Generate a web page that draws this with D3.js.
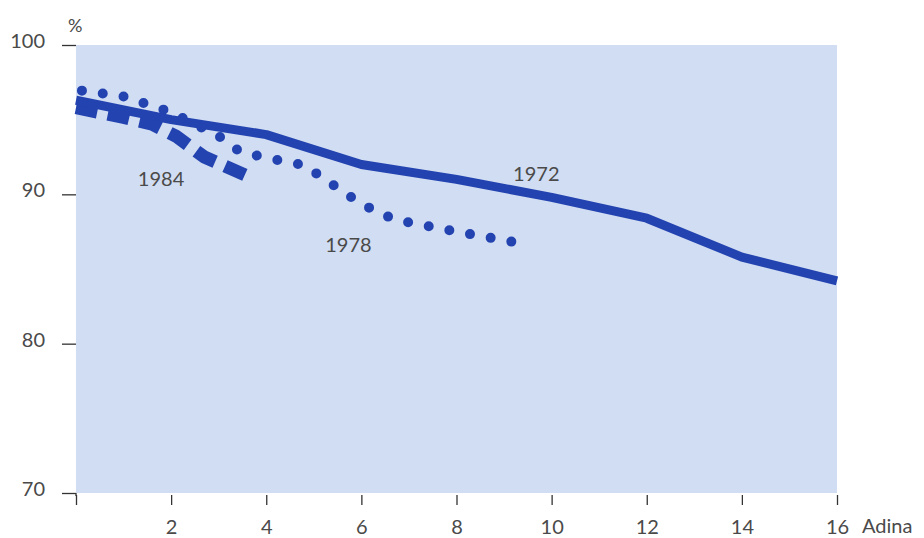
<!DOCTYPE html>
<html><head><meta charset="utf-8">
<script src="https://cdn.jsdelivr.net/npm/d3@7"></script>
<style>
html,body{margin:0;padding:0;background:#fff;}
svg text{font-family:Lato,"DejaVu Sans",sans-serif;fill:#4a4a4a;}
</style></head>
<body><svg id="c" width="924" height="538"></svg>
<script>
// Data
const xTicks = [0,2,4,6,8,10,12,14,16];
const yTicks = [70,80,90,100];
const s1972_x = [0,2,4,6,8,10,12,14,16];
const s1972_y = [96.3,95.0,94.0,92.0,91.0,89.8,88.4,85.8,84.2];
const s1978_x = [0,1,2,3,3.45,4,4.8,6,6.7,8,9.3];
const s1978_y = [97.0,96.55,95.5,93.9,92.85,92.45,91.95,89.35,88.3,87.5,86.75];
const s1984_x = [0,1,1.6,2.1,2.7,3.55];
const s1984_y = [95.8,95.15,94.7,93.9,92.5,91.3];
const seriesLabels = [
  {name:"1972", x:9.19, y:90.9},
  {name:"1978", x:5.24, y:86.13},
  {name:"1984", x:1.30, y:90.56}
];
const xAxisTitle = "Adina";
const yAxisTitle = "%";

const svg = d3.select("#c");
const mL = 76, mR = 837, mT = 45, mB = 493;
const x = d3.scaleLinear().domain([0,16]).range([mL,mR]);
const y = d3.scaleLinear().domain([70,100]).range([mB,mT]);
const blue = "#2343b0";

svg.append("rect").attr("x",mL).attr("y",mT).attr("width",mR-mL).attr("height",mB-mT).attr("fill","#d1ddf2");

// Y axis
const ya = svg.append("g").attr("transform",`translate(${mL},0)`)
  .call(d3.axisLeft(y).tickValues(yTicks).tickSize(14).tickPadding(17).tickFormat(d3.format("d")));
ya.select(".domain").remove();
ya.selectAll("line").attr("stroke","#333").attr("stroke-width",1.3);
ya.selectAll("text").attr("font-size",20).attr("dy","0.12em").style("fill","#4a4a4a");

// X axis
const xa = svg.append("g").attr("transform",`translate(0,${mB+2})`)
  .call(d3.axisBottom(x).tickValues(xTicks).tickSize(10).tickPadding(15).tickFormat(d=> d===0?"":d));
xa.select(".domain").remove();
xa.selectAll("line").attr("stroke","#333").attr("stroke-width",1.3);
xa.selectAll("text").attr("font-size",20).style("fill","#4a4a4a");
// corner joining x=0 tick and y=70 tick
svg.append("line").attr("x1",x(0)).attr("x2",x(0)).attr("y1",y(70)).attr("y2",y(70)+3).attr("stroke","#333").attr("stroke-width",1.3);

svg.append("text").attr("x",x(16)+25).attr("y",mB+40).attr("font-size",20).text(xAxisTitle);
svg.append("text").attr("x",mL-8).attr("y",mT-13).attr("font-size",18).attr("text-anchor","start").text(yAxisTitle);

const line = d3.line().x(d=>x(d[0])).y(d=>y(d[1]));
const zip = (a,b)=>a.map((v,i)=>[v,b[i]]);

const p84 = svg.append("path").datum(zip(s1984_x,s1984_y)).attr("d",line)
  .attr("fill","none").attr("stroke",blue).attr("stroke-width",13);
// six dashes with five gaps exactly filling the path
const L84 = p84.node().getTotalLength();
const unit = L84 / (6*2 + 5*1);
p84.attr("stroke-dasharray", `${unit*2},${unit}`);

svg.append("path").datum(zip(s1972_x,s1972_y)).attr("d",line)
  .attr("fill","none").attr("stroke",blue).attr("stroke-width",9).attr("stroke-linejoin","round");
svg.append("path").datum(zip(s1978_x,s1978_y)).attr("d",line)
  .attr("fill","none").attr("stroke",blue).attr("stroke-width",10).attr("stroke-linecap","round")
  .attr("stroke-dasharray","0,21").attr("stroke-dashoffset",15);

svg.selectAll(".lbl").data(seriesLabels).enter().append("text")
  .attr("x",d=>x(d.x)).attr("y",d=>y(d.y)).attr("font-size",20).text(d=>d.name);
</script></body></html>
